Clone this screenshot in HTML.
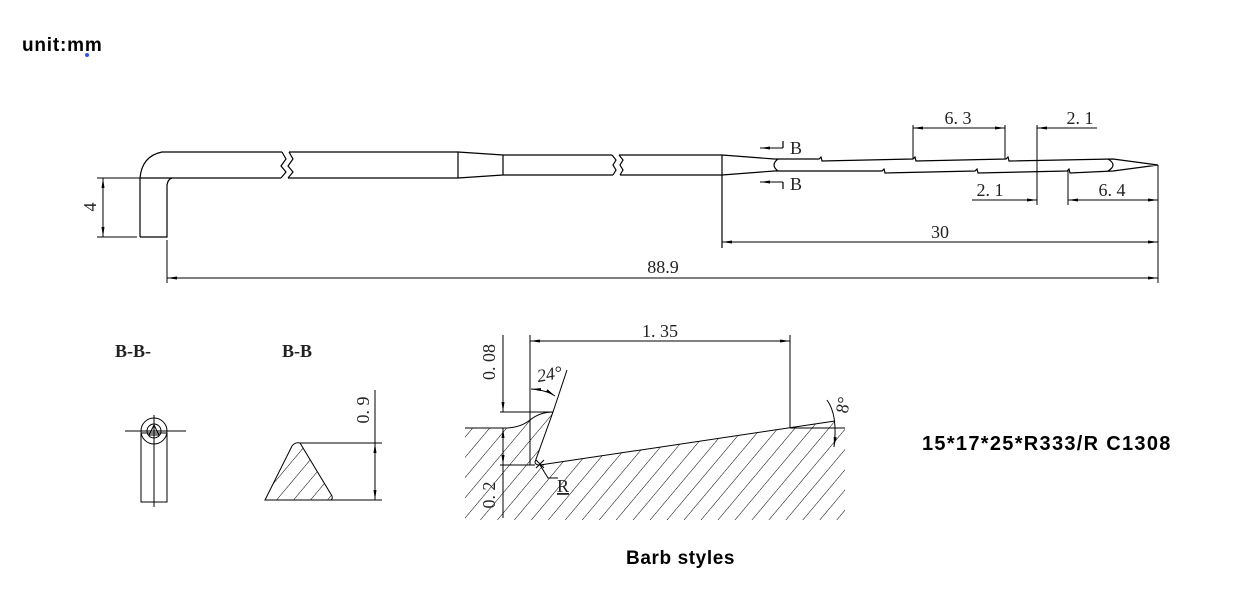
<!DOCTYPE html>
<html><head><meta charset="utf-8"><style>
html,body{margin:0;padding:0;background:#fff;}
svg{display:block}
.t{font-family:"Liberation Serif","Noto Serif CJK SC",serif;font-size:18px;fill:#222}
.b{font-family:"Liberation Sans","DejaVu Sans",sans-serif;font-weight:bold;fill:#000}
</style></head><body>
<svg width="1243" height="594" viewBox="0 0 1243 594" xmlns="http://www.w3.org/2000/svg">
<defs>
<marker id="a" viewBox="0 0 10 4" refX="10" refY="2" markerWidth="10" markerHeight="4" orient="auto-start-reverse" markerUnits="userSpaceOnUse"><path d="M0,0.5 L10,2 L0,3.5z" fill="#000"/></marker>
<pattern id="h" width="13" height="13" patternUnits="userSpaceOnUse" patternTransform="rotate(40)"><line x1="0" y1="0" x2="0" y2="13" stroke="#000" stroke-width="1"/></pattern>
</defs>
<g fill="none" stroke="#000" stroke-width="1.2">
<path d="M140,237 L140,178 Q142,156 162,152 L282,152"/>
<path d="M289,152 L458,152 L503,155 L612,155"/>
<path d="M140,178 L281,178 M288,178 L458,178 L503,175 L613,175"/>
<path d="M282,152 L286,159 L281,166 L286,172 L281,178 M289,152 L293,159 L288,166 L293,172 L288,178"/>
<path d="M140,237 L167,237 L167,185 Q168,179 172,178"/>
<path d="M458,152 L458,178 M503,155 L503,175"/>
<path d="M612,155 L616,160 L613,165 L616,170 L613,175 M619,155 L623,160 L620,165 L623,170 L620,175"/>
<path d="M619,155 L722,155 L774,159 M620,175 L722,175 L774,171"/>
<path d="M722,155 L722,248"/>
<path d="M774,159 L819,159 L821,157 L822,161 L913,159 L915,157 L916,161 L1006,159 L1008,157 L1009,161 L1113,159 L1158,165 M774,171 L882,171 L884,169 L885,173 L975,171 L977,169 L978,173 L1067,171 L1069,169 L1070,173 L1113,171 L1158,165"/>
<path d="M778,159 Q770,165 778,171 M1108,159 Q1118,165 1108,171"/>
<path d="M783,141 L783,148 M783,182 L783,189"/>
<line x1="783" y1="148" x2="760" y2="148" stroke-width="1" marker-end="url(#a)"/>
<line x1="783" y1="182" x2="760" y2="182" stroke-width="1" marker-end="url(#a)"/>
</g>
<g fill="none" stroke="#000" stroke-width="1">
<path d="M97,178 L140,178 M97,237 L137,237"/>
<line x1="103" y1="178" x2="103" y2="237" marker-start="url(#a)" marker-end="url(#a)"/>
<path d="M167,240 L167,283 M1158,165 L1158,283"/>
<line x1="167" y1="278" x2="1158" y2="278" marker-start="url(#a)" marker-end="url(#a)"/>
<line x1="722" y1="242" x2="1158" y2="242" marker-start="url(#a)" marker-end="url(#a)"/>
<path d="M913,125 L913,159 M1005,125 L1005,159 M1037,125 L1037,205 M1068,170 L1068,205"/>
<line x1="913" y1="128" x2="1005" y2="128" marker-start="url(#a)" marker-end="url(#a)"/>
<line x1="1097" y1="128" x2="1037" y2="128" marker-end="url(#a)"/>
<line x1="972" y1="200" x2="1037" y2="200" marker-end="url(#a)"/>
<line x1="1068" y1="200" x2="1158" y2="200" marker-start="url(#a)" marker-end="url(#a)"/>
<rect x="141" y="433" width="26" height="69"/>
<path d="M125,431 L186,431 M154,415 L154,507"/>
<ellipse cx="154" cy="431" rx="13" ry="13"/>
<circle cx="154" cy="431" r="7"/>
<path d="M149,435 L154,425 L159,435z"/>
<path d="M265,500 L292,446 Q295,442 300,443 L332,496 Q333,500 330,500 Z" fill="url(#h)"/>
<path d="M300,443 L382,443 M330,500 L382,500"/>
<line x1="375" y1="443" x2="375" y2="500" marker-start="url(#a)" marker-end="url(#a)"/>
<line x1="375" y1="390" x2="375" y2="443"/>
<path d="M465,428 L505,428 Q520,428 530,420 Q540,412 553,412 L535,463 L540,465 L835,421 L845,428 L845,520 L465,520 Z" fill="url(#h)" stroke="none"/>
<path d="M465,428 L505,428 Q520,428 530,420 Q540,412 553,412 L535,462 Q535,465 540,465 L835,421"/>
<path d="M790,428 L845,428"/>
<path d="M500,412 L553,412 M500,465 L535,465"/>
<line x1="503" y1="335" x2="503" y2="412" marker-end="url(#a)"/>
<line x1="503" y1="428" x2="503" y2="465" marker-start="url(#a)" marker-end="url(#a)"/>
<line x1="503" y1="465" x2="503" y2="518"/>
<path d="M530,335 L530,465 M790,335 L790,428"/>
<line x1="530" y1="341" x2="790" y2="341" marker-start="url(#a)" marker-end="url(#a)"/>
<path d="M553,412 L567,370"/>
<path d="M531,389 Q546,390 555,396" marker-start="url(#a)" marker-end="url(#a)"/>
<path d="M827,400 Q838,415 834,447" marker-end="url(#a)"/>
<path d="M540,465 L548,478 L558,478 M536,460 L544,468 M544,460 L536,468"/>
</g>
<text class="t" x="90" y="207" text-anchor="middle" transform="rotate(-90 90 207)" dy="6">4</text>
<text class="t" x="663" y="273" text-anchor="middle">88.9</text>
<text class="t" x="940" y="238" text-anchor="middle">30</text>
<text class="t" x="958" y="124" text-anchor="middle">6. 3</text>
<text class="t" x="1080" y="124" text-anchor="middle">2. 1</text>
<text class="t" x="990" y="196" text-anchor="middle">2. 1</text>
<text class="t" x="1112" y="196" text-anchor="middle">6. 4</text>
<text class="t" x="790" y="154" font-size="15">B</text>
<text class="t" x="790" y="190" font-size="15">B</text>
<text class="t" x="115" y="357" font-size="21" font-weight="bold">B-B-</text>
<text class="t" x="282" y="357" font-size="21" font-weight="bold">B-B</text>
<text class="t" x="363" y="410" text-anchor="middle" transform="rotate(-90 363 410)" dy="6">0. 9</text>
<text class="t" x="660" y="337" text-anchor="middle">1. 35</text>
<text class="t" x="489" y="362" text-anchor="middle" transform="rotate(-90 489 362)" dy="6">0. 08</text>
<text class="t" x="489" y="495" text-anchor="middle" transform="rotate(-90 489 495)" dy="6">0. 2</text>
<text class="t" x="537" y="380" font-style="italic" transform="rotate(-10 550 375)">24°</text>
<text class="t" x="843" y="405" text-anchor="middle" transform="rotate(-80 843 405)" dy="6">8°</text>
<text class="t" x="557" y="492" font-size="16" text-decoration="underline">R</text>
<text class="b" x="22" y="51" font-size="19" letter-spacing="0.8">unit:mm</text>
<circle cx="87" cy="55" r="2" fill="#3050ff"/>
<text class="b" x="922" y="450" font-size="20" letter-spacing="1.3">15*17*25*R333/R C1308</text>
<text class="b" x="626" y="564" font-size="19" letter-spacing="0.6">Barb styles</text>
</svg>
</body></html>
